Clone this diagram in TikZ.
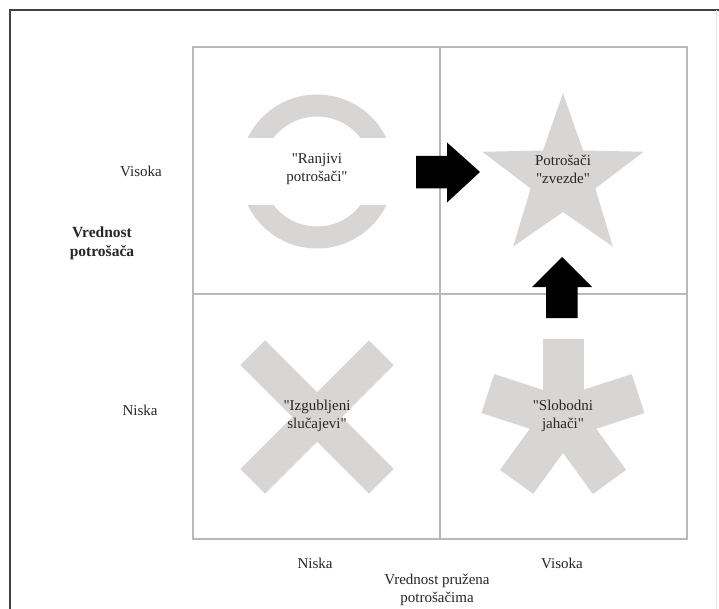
\documentclass[tikz,border=0pt]{standalone}
\usepackage{fontspec}
\setmainfont{Liberation Serif}
\newcommand{\dq}{\textquotedbl}
\begin{document}
\begin{tikzpicture}[x=1pt,y=-1pt,
  lbl/.style={font=\fontsize{15}{18}\selectfont, align=center, inner sep=0pt, text=black!85},
  axistitle/.style={lbl, font=\fontsize{15.5}{19}\selectfont\bfseries},
  gridline/.style={draw=black!28, line width=1.4pt},
  shapefill/.style={fill=shapegray, draw=none},
  blockarrow/.style={fill=black, draw=none}]
\definecolor{shapegray}{RGB}{216,214,212}
\useasboundingbox (0,0) rectangle (719,609);
\fill[white] (0,0) rectangle (719,609);

% page frame
\draw[black!75, line width=2pt] (9.5,609) -- (9.5,10.5) -- (719,10.5);
\draw[black!10, line width=1pt] (716.5,10.5) -- (716.5,609);

% quadrant grid
\draw[gridline] (193,47) rectangle (687,539);
\draw[gridline] (440,47) -- (440,539);
\draw[gridline] (193,294) -- (687,294);

% open ring (top left)
\begin{scope}
  \clip (200,50) rectangle (435,138) (200,205) rectangle (435,290);
  \fill[shapegray, even odd rule] (317,171.5) circle[radius=77] (317,171.5) circle[radius=55];
\end{scope}

% five-pointed star (top right)
\fill[shapefill] (563,93.2)
  \foreach \k in {0,...,4} {
    -- ({563+34*cos(126+72*\k)},{178-34*sin(126+72*\k)})
    -- ({563+84.8*cos(162+72*\k)},{178-84.8*sin(162+72*\k)})
  } -- cycle;

% cross (bottom left)
\foreach \a in {45,135,225,315} {
  \fill[shapefill]
    ({317-17.5*sin(\a)},{417-17.5*cos(\a)}) --
    ({317+17.5*sin(\a)},{417+17.5*cos(\a)}) --
    ({317+91*cos(\a)+17.5*sin(\a)},{417-91*sin(\a)+17.5*cos(\a)}) --
    ({317+91*cos(\a)-17.5*sin(\a)},{417-91*sin(\a)-17.5*cos(\a)}) -- cycle;
}

% asterisk (bottom right)
\foreach \a in {90,18,-54,-126,162} {
  \fill[shapefill]
    ({563-20.5*sin(\a)},{418-20.5*cos(\a)}) --
    ({563+20.5*sin(\a)},{418+20.5*cos(\a)}) --
    ({563+79*cos(\a)+20.5*sin(\a)},{418-79*sin(\a)+20.5*cos(\a)}) --
    ({563+79*cos(\a)-20.5*sin(\a)},{418-79*sin(\a)-20.5*cos(\a)}) -- cycle;
}

% block arrows
\fill[blockarrow] (416,156) -- (447,156) -- (447,142.5) -- (480,172) --
  (447,202.5) -- (447,188.5) -- (416,188.5) -- cycle;
\fill[blockarrow] (546,318) -- (546,287) -- (532,287) -- (562,257) --
  (592,287) -- (577.5,287) -- (577.5,318) -- cycle;

% quadrant labels
\node[lbl] (ranjivi) at (317,169) {\dq Ranjivi\\potrošači\dq};
\node[lbl] (zvezde) at (563,169) {Potrošači\\\dq zvezde\dq};
\node[lbl] (izgubljeni) at (317,416) {\dq Izgubljeni\\slučajevi\dq};
\node[lbl] (slobodni) at (563,416) {\dq Slobodni\\jahači\dq};

% vertical axis
\node[lbl] (yhigh) at (141,171) {Visoka};
\node[lbl] (ylow) at (140,410) {Niska};
\node[axistitle] (ytitle) at (102,243) {Vrednost\\potrošača};

% horizontal axis
\node[lbl] (xlow) at (315,563) {Niska};
\node[lbl] (xhigh) at (562,563) {Visoka};
\node[lbl] (xtitle) at (437,590) {Vrednost pružena\\potrošačima};
\end{tikzpicture}
\end{document}
